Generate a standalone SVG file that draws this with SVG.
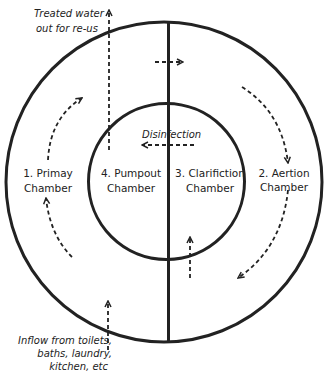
<svg xmlns="http://www.w3.org/2000/svg" width="325" height="374" viewBox="0 0 325 374">
<defs>
<marker id="ah" viewBox="0 0 8 8" refX="7" refY="4" markerWidth="8" markerHeight="8" markerUnits="userSpaceOnUse" orient="auto">
<path d="M1,1 L7,4 L1,7" fill="none" stroke="#222" stroke-width="1.5"/>
</marker>
</defs>
<style>
.wall{fill:none;stroke:#222;stroke-width:3}
.flow{fill:none;stroke:#222;stroke-width:1.8;stroke-dasharray:4 3;marker-end:url(#ah)}
.lbl{font-family:"DejaVu Sans",Verdana,sans-serif;font-size:10.5px;fill:#222;text-anchor:middle}
.note{font-family:"DejaVu Sans",Verdana,sans-serif;font-size:10px;font-style:italic;fill:#222}
</style>
<rect width="325" height="374" fill="#fff"/>
<g id="tank">
<ellipse cx="164" cy="182" rx="158" ry="160" class="wall"/>
<circle cx="166.5" cy="181.5" r="78" class="wall"/>
<line x1="168.5" y1="22" x2="168.5" y2="342" class="wall" stroke-width="2.6"/>
</g>
<g id="primary"><text class="lbl" x="48" y="177">1. Primay</text><text class="lbl" x="48" y="192">Chamber</text></g>
<g id="aeration"><text class="lbl" x="284" y="177">2. Aertion</text><text class="lbl" x="284" y="191">Chamber</text></g>
<g id="clarification"><text class="lbl" x="210" y="177">3. Clarifiction</text><text class="lbl" x="210" y="192">Chamber</text></g>
<g id="pumpout"><text class="lbl" x="131" y="177">4. Pumpout</text><text class="lbl" x="131" y="192">Chamber</text></g>
<g id="disinfection"><text class="note" x="142" y="138">Disinfection</text></g>
<g id="treated"><text class="note" x="34" y="17">Treated water</text><text class="note" x="36" y="32">out for re-us</text></g>
<g id="inflow"><text class="note" x="112" y="344" text-anchor="end">Inflow from toilets,</text><text class="note" x="112" y="357" text-anchor="end">baths, laundry,</text><text class="note" x="108" y="370" text-anchor="end">kitchen, etc</text></g>
<g id="connectors">
<path class="flow" d="M109,150 L109,10"/>
<path class="flow" d="M108,350 L108,301"/>
<path class="flow" d="M155,62 L183,62"/>
<path class="flow" d="M194,145 L142,145"/>
<path class="flow" d="M190,278 L190,237"/>
<path class="flow" d="M48,160 Q50,118 82,98"/>
<path class="flow" d="M72,257 Q50,235 46,198"/>
<path class="flow" d="M242,87 Q282,112 288,163"/>
<path class="flow" d="M288,190 Q282,248 238,278"/>
</g>
</svg>
